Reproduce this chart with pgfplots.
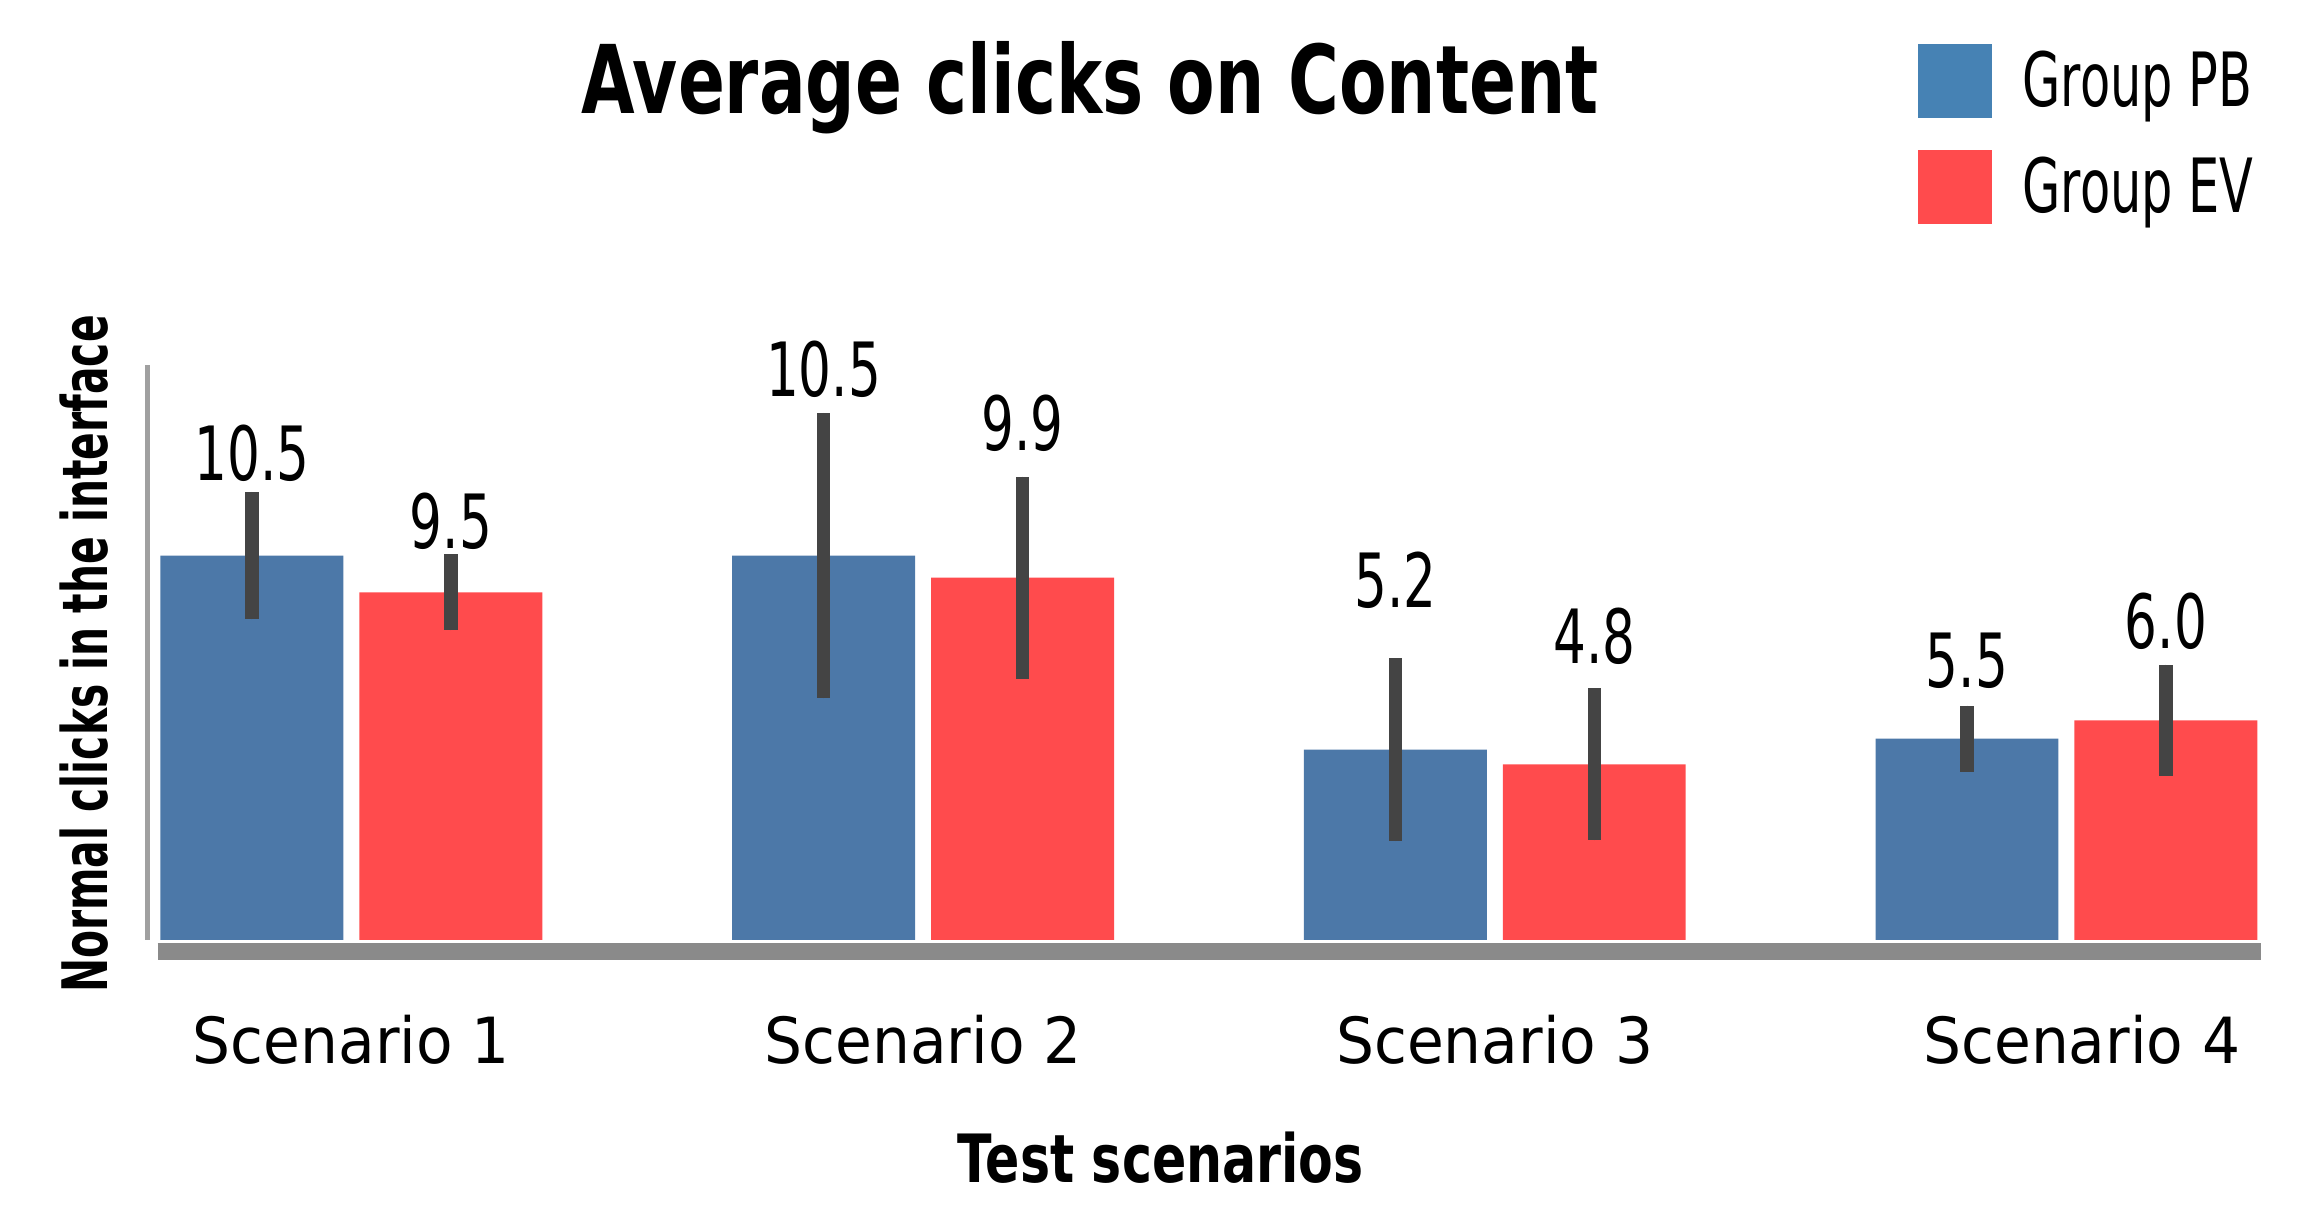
\documentclass[border=0pt]{standalone}
\usepackage{fontspec}
\setmainfont{DejaVu Sans}
\usepackage{pgfplots}
\pgfplotsset{compat=1.18}
\usepackage{pgfplotstable}
\newfontfamily\titlefont{DejaVu Sans}[FakeStretch=0.73]
\newfontfamily\numfont{DejaVu Sans}[FakeStretch=0.69]
\newfontfamily\legfont{DejaVu Sans}[FakeStretch=0.66]
\newfontfamily\tickfont{DejaVu Sans}[FakeStretch=0.94]
\newfontfamily\xlabfont{DejaVu Sans}[FakeStretch=0.76]
\newfontfamily\ylabfont{DejaVu Sans}[FakeStretch=0.65]
\definecolor{pbblue}{HTML}{4C78A8}
\definecolor{pblegend}{HTML}{4682B4}
\definecolor{evred}{HTML}{FF4B4D}
\definecolor{errgray}{HTML}{444444}
\definecolor{axgray}{HTML}{8A8A8A}
\definecolor{yaxgray}{HTML}{A0A0A0}

\pgfplotstableread{
x y err ly lab
0 10.5 1.74 12.52 10.5
1 10.5 3.90 14.80 10.5
2 5.2 2.50 9.04 5.2
3 5.5 0.90 6.84 5.5
}\tabPB
\pgfplotstableread{
x y err ly lab
0 9.5 1.04 10.64 9.5
1 9.9 2.76 13.32 9.9
2 4.8 2.08 7.52 4.8
3 6.0 1.52 7.92 6.0
}\tabEV

\begin{document}
\begin{tikzpicture}
\useasboundingbox (-50pt,-90.5pt) rectangle (734pt,319pt);
\begin{axis}[
  at={(0pt,0pt)}, anchor=south west,
  scale only axis, width=717.5pt, height=195pt,
  xmin=-0.357, xmax=3.341, ymin=0, ymax=15.7,
  clip=false,
  axis line style={draw=none},
  ytick=\empty,
  xtick={0,1,2,3},
  xticklabels={Scenario 1\hspace{5.5pt},Scenario 2,Scenario 3,\hspace{10.5pt}Scenario 4},
  major tick length=0pt,
  xtick style={draw=none},
  xticklabel style={font=\tickfont\fontsize{21.6pt}{25pt}\selectfont, anchor=base, yshift=-42pt},
  legend style={at={(0.8376,1.559)}, anchor=north west, draw=none, fill=none,
    inner sep=0pt, outer sep=0pt,
    font=\legfont\fontsize{25.4pt}{30pt}\selectfont,
    row sep=11pt, nodes={inner sep=0pt},
    /tikz/every odd column/.append style={column sep=10.5pt}},
  legend cell align=left,
]
\addplot[ybar, bar width=0.32, bar shift=0pt, fill=pbblue, draw=none,
  legend image code/.code={\fill[pblegend] (0pt,-12.5pt) rectangle (25pt,12.5pt);},
  error bars/.cd, y dir=both, y explicit, error mark=none,
  error bar style={line width=4.5pt, errgray}]
  table[x expr=\thisrow{x}-0.174, y=y, y error=err]{\tabPB};
\addlegendentry{Group PB}
\addplot[ybar, bar width=0.32, bar shift=0pt, fill=evred, draw=none,
  legend image code/.code={\fill[evred] (0pt,-12.5pt) rectangle (25pt,12.5pt);},
  error bars/.cd, y dir=both, y explicit, error mark=none,
  error bar style={line width=4.5pt, errgray}]
  table[x expr=\thisrow{x}+0.174, y=y, y error=err]{\tabEV};
\addlegendentry{Group EV}
\addplot[draw=none, mark=none, forget plot, nodes near coords, point meta=explicit symbolic,
  every node near coord/.append style={inner sep=0pt, font=\numfont\fontsize{25.4pt}{30pt}\selectfont}]
  table[x expr=\thisrow{x}-0.174, y=ly, meta=lab]{\tabPB};
\addplot[draw=none, mark=none, forget plot, nodes near coords, point meta=explicit symbolic,
  every node near coord/.append style={inner sep=0pt, font=\numfont\fontsize{25.4pt}{30pt}\selectfont}]
  table[x expr=\thisrow{x}+0.174, y=ly, meta=lab]{\tabEV};
\draw[yaxgray, line width=1.6pt] (rel axis cs:0,0) -- (rel axis cs:0,1);
\draw[axgray, line width=6pt] (axis cs:-0.339,-0.32) -- (axis cs:3.341,-0.32);
\end{axis}
\node[anchor=base, font=\titlefont\bfseries\fontsize{32.2pt}{36pt}\selectfont] at (320pt,280.5pt) {Average clicks on Content};
\node[rotate=90, anchor=base, font=\ylabfont\bfseries\fontsize{21.3pt}{24pt}\selectfont] at (-13.5pt,97pt) {Normal clicks in the interface};
\node[anchor=base, font=\xlabfont\bfseries\fontsize{22.6pt}{26pt}\selectfont] at (344pt,-82.5pt) {Test scenarios};
\end{tikzpicture}
\end{document}
